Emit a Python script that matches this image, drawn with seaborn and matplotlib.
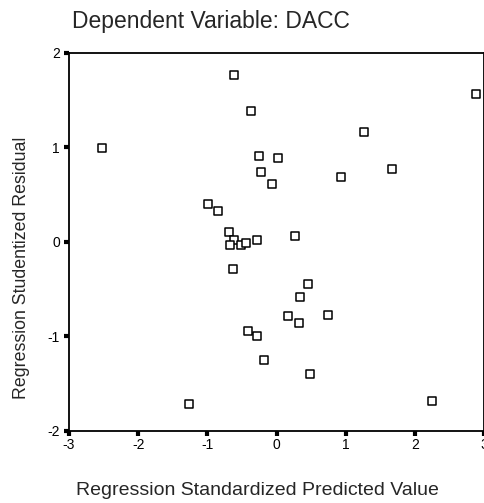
import matplotlib
matplotlib.use("Agg")
import matplotlib.pyplot as plt
import pandas as pd
import seaborn as sns

# Regression Standardized Predicted Value
predicted = [
    -0.61, -0.37, -2.53, -0.25, 0.02, -0.23, -0.06, -0.99,
    -0.85, -0.69, -0.61, -0.67, -0.51, -0.44, -0.29, 0.26,
    -0.63, 0.46, 0.34, 0.16, 0.32, 0.75, -0.41, -0.29,
    -0.18, 0.48, -1.27, 2.24, 2.88, 1.27, 1.67, 0.93,
]
# Regression Studentized Residual
residual = [
    1.77, 1.38, 0.99, 0.91, 0.89, 0.74, 0.61, 0.40,
    0.32, 0.10, 0.02, -0.03, -0.03, -0.01, 0.02, 0.06,
    -0.29, -0.45, -0.59, -0.79, -0.86, -0.78, -0.95, -1.00,
    -1.25, -1.40, -1.72, -1.69, 1.56, 1.16, 0.77, 0.68,
]
x_ticks = [-3, -2, -1, 0, 1, 2, 3]
y_ticks = [-2, -1, 0, 1, 2]

df = pd.DataFrame({"pred": predicted, "resid": residual})

sns.set_style("ticks")
plt.rcParams["font.family"] = ["Liberation Sans", "DejaVu Sans"]

fig = plt.figure(figsize=(4.85, 5.03), dpi=100)
ax = fig.add_axes([0.1423, 0.144, 0.856, 0.751])

sns.scatterplot(
    data=df, x="pred", y="resid", ax=ax,
    marker="s", s=26, facecolor="white", edgecolor="black", linewidth=1.1,
)

ax.set_xlim(-3, 3)
ax.set_ylim(-2, 2)
ax.set_xticks(x_ticks)
ax.set_yticks(y_ticks)
ax.set_xticklabels([str(t) for t in x_ticks])
ax.set_yticklabels([str(t) for t in y_ticks])

for side in ["top", "right", "bottom", "left"]:
    ax.spines[side].set_visible(True)
    ax.spines[side].set_color("black")
    ax.spines[side].set_linewidth(1.3)

ax.tick_params(axis="both", direction="out", length=3.5, width=3,
               color="black", labelsize=10, labelcolor="black", pad=2)
ax.tick_params(axis="y", pad=3)

ax.set_xlabel("Regression Standardized Predicted Value", fontsize=14, labelpad=0)
ax.set_ylabel("Regression Studentized Residual", fontsize=12.8, labelpad=0)
ax.xaxis.set_label_coords(0.455, -0.136)
ax.yaxis.set_label_coords(-0.094, 0.43)

fig.text(0.148, 0.958, "Dependent Variable: DACC", fontsize=16.5, ha="left", va="center")

fig.savefig("out.png", dpi=100)
